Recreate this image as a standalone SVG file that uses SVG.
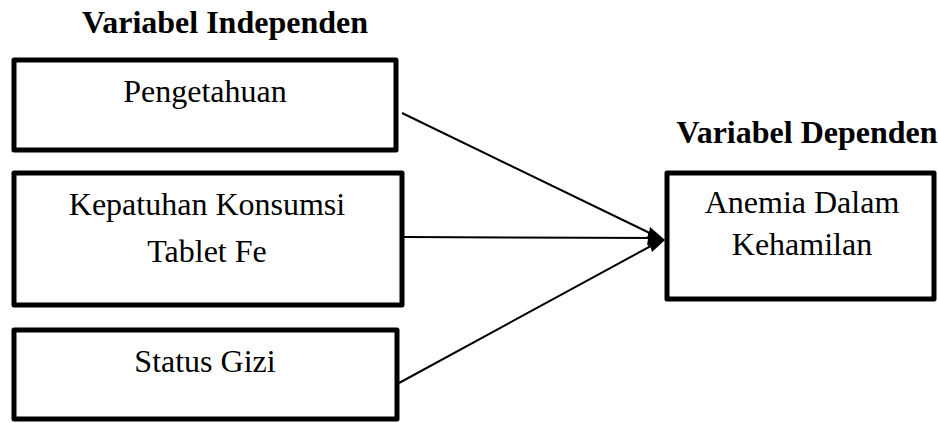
<svg xmlns="http://www.w3.org/2000/svg" width="938" height="423" viewBox="0 0 938 423">
<style>
.box{fill:#fff;stroke:#000;stroke-width:5;stroke-linejoin:round}
.t{font-family:"Liberation Serif","Times New Roman",serif;font-size:32px;fill:#000;text-anchor:middle}
.h{font-family:"Liberation Serif","Times New Roman",serif;font-size:32px;font-weight:bold;fill:#000;text-anchor:middle}
.c{stroke:#000;stroke-width:2;fill:none}
.head{fill:#000}
</style>
<rect width="938" height="423" fill="#fff"/>
<text class="h" x="225" y="33">Variabel Independen</text>
<text class="h" x="807" y="143">Variabel Dependen</text>
<g id="connectors">
<line class="c" x1="402" y1="113" x2="660" y2="238"/>
<line class="c" x1="404" y1="237" x2="660" y2="238"/>
<line class="c" x1="399" y1="383" x2="660" y2="241"/>
<path class="head" d="M665,240 L650,227 L647,245 Z"/>
<path class="head" d="M665,240 L648,233 L648,246 Z"/>
<path class="head" d="M665,240 L647,236 L652,252 Z"/>
</g>
<g id="n1">
<rect class="box" x="14" y="60" width="382" height="90"/>
<text class="t" x="205" y="102">Pengetahuan</text>
</g>
<g id="n2">
<rect class="box" x="14" y="173" width="388" height="132"/>
<text class="t" x="207" y="215">Kepatuhan Konsumsi</text>
<text class="t" x="207" y="262">Tablet Fe</text>
</g>
<g id="n3">
<rect class="box" x="14" y="330" width="383" height="89"/>
<text class="t" x="205" y="372">Status Gizi</text>
</g>
<g id="n4">
<rect class="box" x="667" y="173" width="267" height="126"/>
<text class="t" x="802" y="213">Anemia Dalam</text>
<text class="t" x="802" y="255">Kehamilan</text>
</g>
</svg>
